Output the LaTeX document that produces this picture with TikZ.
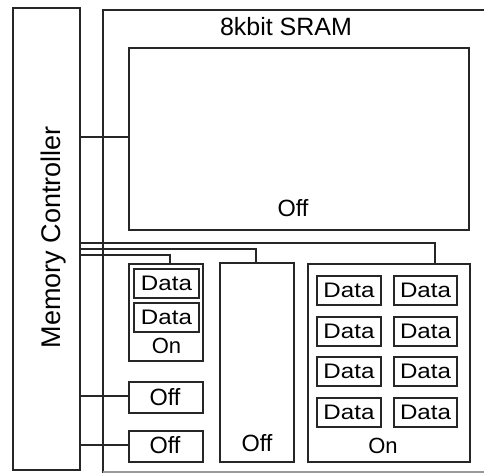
\documentclass[tikz,border=0pt]{standalone}
\usepackage{fontspec}
\setmainfont{Liberation Sans}
\newfontfamily\datafont[FakeStretch=1.15]{Liberation Sans}
\begin{document}
\begin{tikzpicture}[x=1pt,y=-1pt,
  wire/.style={draw=black!85,line width=1.3pt},
  box/.style={draw=black!85,line width=1.3pt,rectangle,inner sep=0pt,outer sep=0pt},
  databox/.style={box,minimum width=64,minimum height=29,font=\datafont\fontsize{21}{21}\selectfont},
  lbl/.style={inner sep=0pt,font=\fontsize{23.5}{23.5}\selectfont}]
\useasboundingbox (0,0) rectangle (484,473);
\clip (0,0) rectangle (484,473);

% memory controller
\node[box,minimum width=67,minimum height=462] (mc) at (46.5,239) {};
\node[inner sep=0pt,rotate=90,anchor=base,font=\fontsize{27}{27}\selectfont] (mclbl) at (60,237) {Memory Controller};

% SRAM outline (right edge lies beyond the frame)
\draw[wire] (490,10) -- (103,10) -- (103,473);
\draw[draw=black!40,line width=1.3pt] (103,472) -- (490,472);
\node[lbl,font=\fontsize{25}{25}\selectfont] (sramlbl) at (286,26.5) {8kbit SRAM};

% large array
\node[box,minimum width=340,minimum height=182] (big) at (299,139) {};
\node[lbl] (bigoff) at (293,208.5) {Off};

% small bank with two data blocks
\node[box,minimum width=74,minimum height=97] (son) at (166,312.5) {};
\node[databox,minimum width=65] (sd1) at (166.5,283.5) {Data};
\node[databox,minimum width=65] (sd2) at (166.5,317.5) {Data};
\node[lbl,font=\fontsize{22}{22}\selectfont] (sonlbl) at (166.5,346) {On};

% two small off blocks
\node[box,minimum width=74,minimum height=31] (off1) at (166,397.5) {};
\node[lbl] (off1lbl) at (165,397.5) {Off};
\node[box,minimum width=74,minimum height=31] (off2) at (166,446.5) {};
\node[lbl] (off2lbl) at (165,445.5) {Off};

% middle off bank
\node[box,minimum width=74,minimum height=199] (mid) at (257,362.5) {};
\node[lbl] (midlbl) at (257,443) {Off};

% right bank with eight data blocks
\node[box,minimum width=162,minimum height=198] (ron) at (389,363) {};
\foreach \r/\yy in {1/290.5,2/331.5,3/371.5,4/412.5}{
  \node[databox] (rd\r a) at (349,\yy) {Data};
  \node[databox,minimum width=63] (rd\r b) at (425.5,\yy) {Data};
}
\node[lbl,font=\fontsize{22}{22}\selectfont] (ronlbl) at (383,445.5) {On};

% connections from the controller
\coordinate (y1) at (0,137);
\coordinate (yoff1) at (0,396);
\coordinate (yoff2) at (0,445);
\draw[wire] (y1 -| mc.east) -- (y1 -| big.west);
\draw[wire] (yoff1 -| mc.east) -- (yoff1 -| off1.west);
\draw[wire] (yoff2 -| mc.east) -- (yoff2 -| off2.west);

% bus lines to the lower banks
\coordinate (b1) at (435,243);
\coordinate (b2) at (256,249);
\coordinate (b3) at (170,255);
\draw[wire] (b1 -| mc.east) -- (b1) -- (b1 |- ron.north);
\draw[wire] (b2 -| mc.east) -- (b2) -- (b2 |- mid.north);
\draw[wire] (b3 -| mc.east) -- (b3) -- (b3 |- son.north);
\end{tikzpicture}
\end{document}
